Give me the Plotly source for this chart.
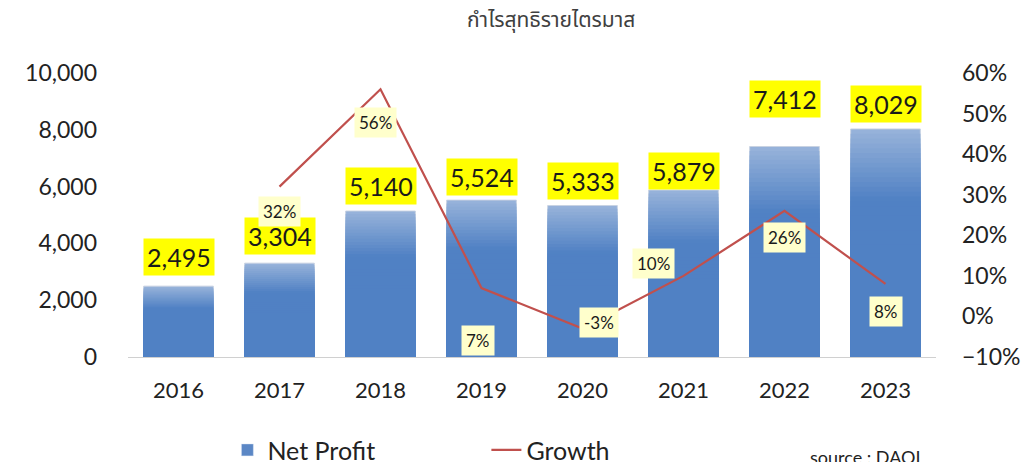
import plotly.graph_objects as go

years = ["2016", "2017", "2018", "2019", "2020", "2021", "2022", "2023"]
net_profit = [2495, 3304, 5140, 5524, 5333, 5879, 7412, 8029]
growth = [None, 0.32, 0.56, 0.07, -0.03, 0.10, 0.26, 0.08]
growth_labels = ["", "32%", "56%", "7%", "-3%", "10%", "26%", "8%"]

left_ticks = [0, 2000, 4000, 6000, 8000, 10000]
right_ticks = [-0.1, 0, 0.1, 0.2, 0.3, 0.4, 0.5, 0.6]

title_text = "กำไรสุทธิรายไตรมาส"
source_text = "source : DAQL"

# label offsets (styling, pixels)
bar_label_shift = [29, 27, 25, 23, 25, 19, 48, 25]
growth_label_dx = [0, 0, -5, -4, 16, -30, 0, 0]
growth_label_dy = [0, -25, -33, -52, 6, 12, -27, -28]

FONT = "Lato, 'Open Sans', sans-serif"

fig = go.Figure()

# gradient bars (light top -> darker bottom) built by overlaying scaled copies
N = 26
top_rgb = (150, 178, 218)
bot_rgb = (80, 129, 196)
for k in range(N):
    frac = 1 - k / N * 0.55
    t = min(1.0, k / (N * 0.55))
    c = tuple(int(top_rgb[i] + (bot_rgb[i] - top_rgb[i]) * t) for i in range(3))
    fig.add_trace(go.Bar(
        x=years, y=[v * frac for v in net_profit],
        marker=dict(color="rgb(%d,%d,%d)" % c,
                    line=dict(width=1 if k == 0 else 0, color="rgba(200,210,225,0.9)")),
        width=0.69, showlegend=False, hoverinfo="skip", yaxis="y",
    ))

# legend entry for bars
fig.add_trace(go.Bar(x=[years[0]], y=[None], name="Net Profit",
                     marker=dict(color="#5b87c5"), showlegend=True))

fig.add_trace(go.Scatter(
    x=years, y=growth, mode="lines", name="Growth",
    line=dict(color="#c0504d", width=2.2), yaxis="y2", connectgaps=False,
))

# bar value labels (x given as category index)
for i, (v, s) in enumerate(zip(net_profit, bar_label_shift)):
    fig.add_annotation(x=i, y=v, yref="y", text=f"{v:,}", showarrow=False,
                       yshift=s, bgcolor="#ffff00", borderpad=3,
                       font=dict(family=FONT, size=25, color="#1a1a1a"))

# growth labels
for i, (g, lab, dx, dy) in enumerate(zip(growth, growth_labels, growth_label_dx, growth_label_dy)):
    if g is None:
        continue
    fig.add_annotation(x=i, y=g, yref="y2", text=lab, showarrow=False,
                       xshift=dx, yshift=dy, bgcolor="#ffffcc", borderpad=4,
                       font=dict(family=FONT, size=17, color="#1a1a1a"))

fig.add_annotation(x=0.5, y=1, xref="paper", yref="paper", yshift=53, yanchor="middle",
                   xshift=19, text=title_text, showarrow=False,
                   font=dict(family="'Noto Sans Thai', 'Noto Sans', sans-serif", size=21, color="#404040"))
fig.add_annotation(x=0.915, y=0, xref="paper", yref="paper", yshift=-100, yanchor="middle",
                   text=source_text, showarrow=False, xanchor="center",
                   font=dict(family=FONT, size=18, color="#222222"))

fig.update_layout(
    width=1029, height=462,
    margin=dict(l=119.5, r=100.5, t=65, b=113, autoexpand=False),
    paper_bgcolor="white", plot_bgcolor="white",
    barmode="overlay", bargap=0.31,
    font=dict(family=FONT, size=22, color="#222222"),
    xaxis=dict(type="category", range=[-0.5, len(years) - 0.5], autorange=False,
               automargin=False,
               showgrid=False, showline=True, linecolor="#d0d0d0", linewidth=1,
               ticks="", ticklabelstandoff=14, tickfont=dict(size=22)),
    yaxis=dict(range=[0, 10000], tickvals=left_ticks, tickformat=",d", automargin=False,
               showgrid=False, zeroline=False, showline=False,
               ticklabelstandoff=30, tickfont=dict(size=23)),
    yaxis2=dict(range=[-0.1, 0.6], tickvals=right_ticks, tickformat=".0%", automargin=False,
                overlaying="y", side="right", showgrid=False, zeroline=False,
                showline=False, ticklabelstandoff=25, tickfont=dict(size=23)),
    legend=dict(orientation="h", x=0.123, y=0.043, yref="container",
                xanchor="left", yanchor="middle",
                font=dict(size=25), entrywidthmode="pixels", entrywidth=214),
)

fig.write_html("out.html")
